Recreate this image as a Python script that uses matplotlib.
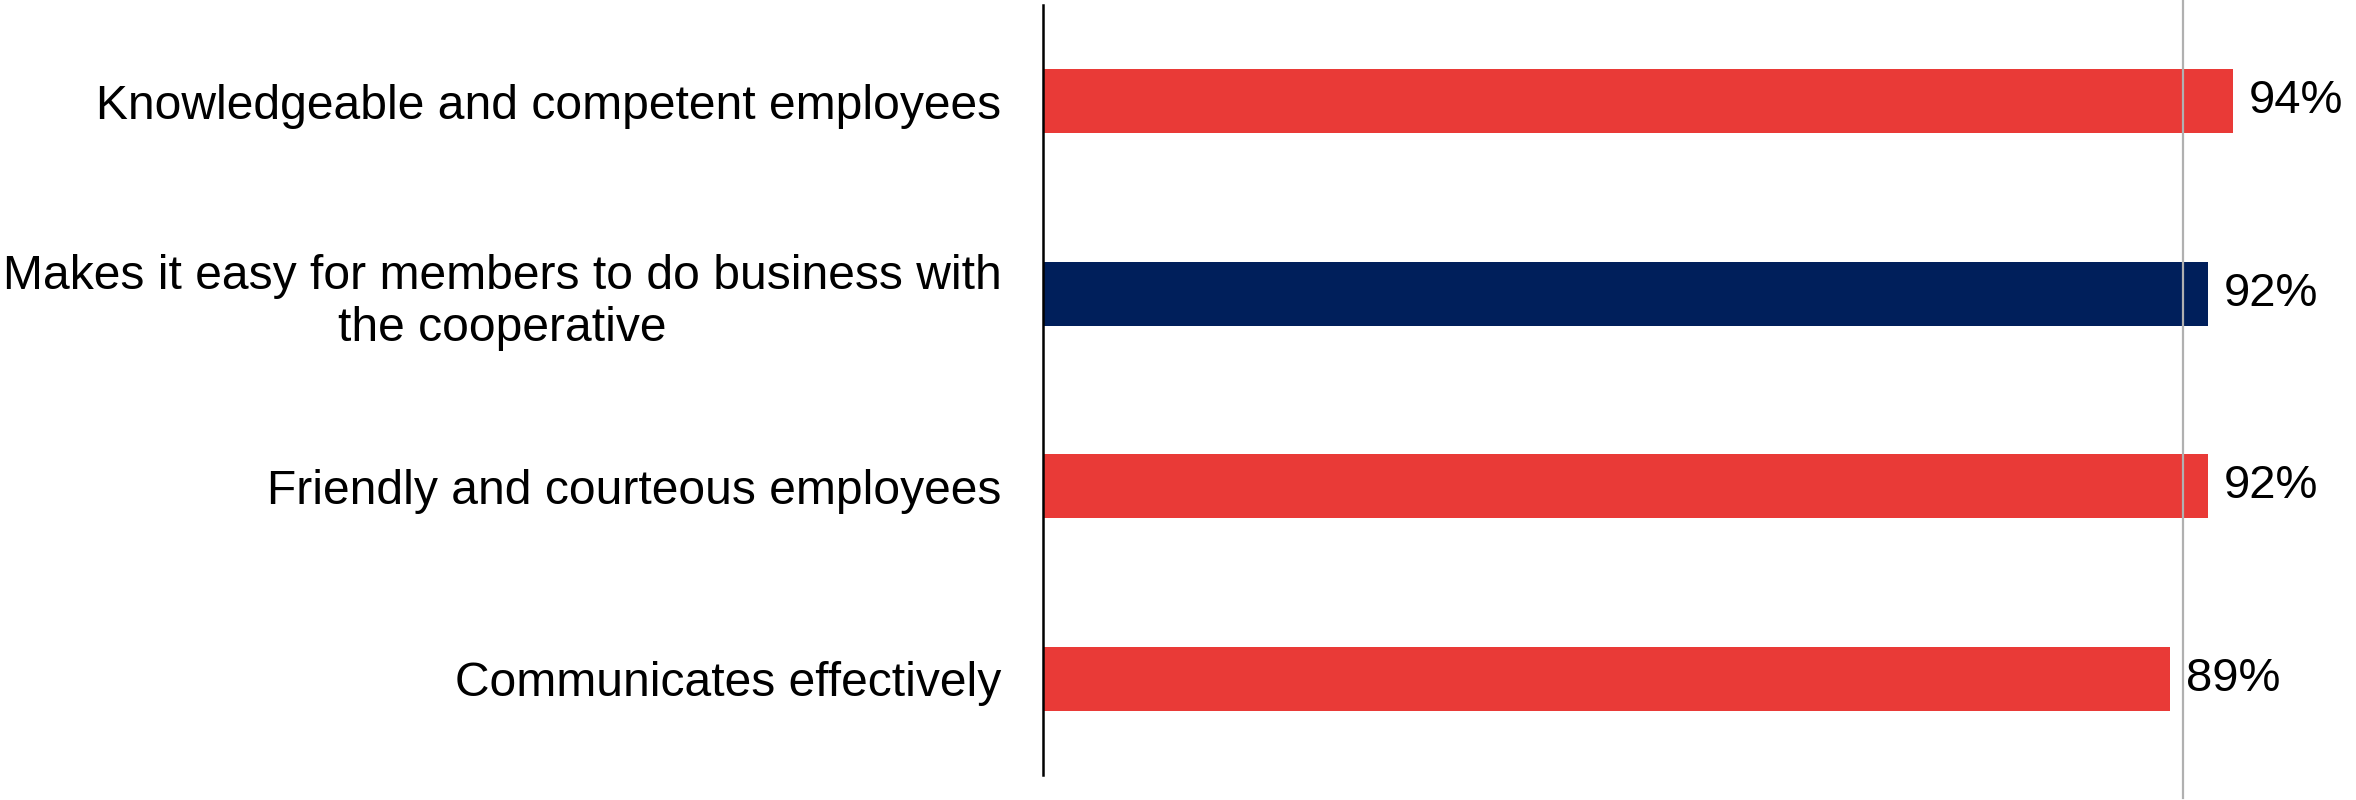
import matplotlib.pyplot as plt

# survey results, top to bottom
categories = ['Knowledgeable and competent employees',
              'Makes it easy for members to do business with\nthe cooperative',
              'Friendly and courteous employees',
              'Communicates effectively']
scores = [94, 92, 92, 89]
bar_colors = ['#E93A37', '#001F5B', '#E93A37', '#E93A37']
benchmark = 90

plt.rcParams['font.family'] = ['Liberation Sans', 'DejaVu Sans']

fig = plt.figure(figsize=(23.56, 8), dpi=100)
ax = fig.add_axes([0.4427, 0.03125, 0.5374, 0.9625])

ypos = list(range(len(categories)))
ax.barh(ypos, scores, height=0.333, color=bar_colors, zorder=2)

# value labels to the right of each bar
for y, v in zip(ypos, scores):
    ax.annotate(f'{v}%', xy=(v, y), xytext=(11.5, 0), textcoords='offset points',
                va='center', ha='left', fontsize=34, color='black')

# benchmark line runs the full height of the figure
ax.axvline(benchmark, ymin=-0.03, ymax=1.0065, color='#b0b0b0', lw=1.6,
           clip_on=False, zorder=3)

ax.set_xlim(0, 100)
ax.set_ylim(len(categories) - 0.5, -0.5)
ax.set_yticks(ypos)
ax.set_yticklabels(categories, fontsize=34.6)
for lab in ax.get_yticklabels():
    lab.set_multialignment('center')
ax.tick_params(axis='y', length=0, pad=30)
ax.set_xticks([])

for side in ['top', 'right', 'bottom']:
    ax.spines[side].set_visible(False)
ax.spines['left'].set_linewidth(1.8)
ax.spines['left'].set_color('black')

fig.savefig('out.png', dpi=100)
